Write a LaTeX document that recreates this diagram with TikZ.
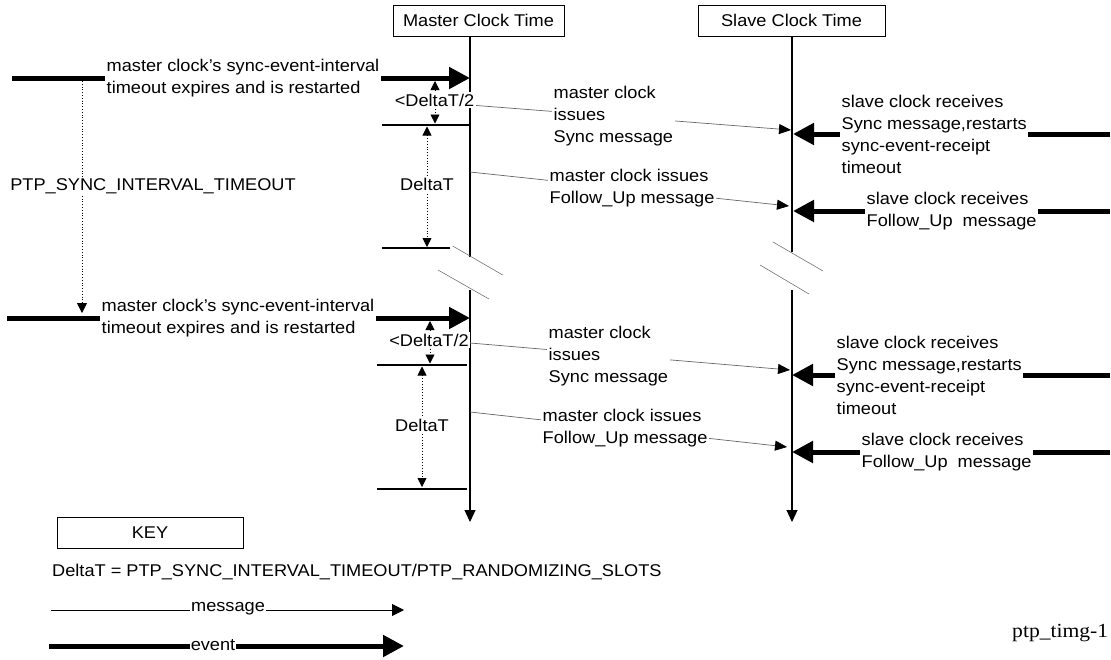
\documentclass[tikz,border=0pt]{standalone}
\usepackage{fontspec}
\setmainfont{Liberation Sans}[FakeStretch=1.07]
\newfontfamily\tagfont{Liberation Serif}[FakeStretch=1.08]
\usetikzlibrary{arrows.meta}

\begin{document}
\begin{tikzpicture}[x=1pt,y=-1pt,
  every node/.style={font=\fontsize{17}{22}\selectfont},
  txt/.style={fill=white, inner sep=1.5pt, align=left, anchor=west},
  ctxt/.style={fill=white, inner sep=1.5pt},
  timebox/.style={draw, line width=0.9pt, minimum height=31pt, inner sep=0pt},
  timeline/.style={line width=2pt},
  timelinelow/.style={line width=1.2pt, -{Triangle[length=12pt,width=11pt]}},
  event/.style={line width=5pt, -{Triangle[length=21pt,width=21pt]}},
  message/.style={line width=0.7pt, draw=black!60, -{Triangle[length=12pt,width=10pt,color=black]}},
  keymessage/.style={line width=0.8pt, -{Triangle[length=12pt,width=12pt]}},
  breakmark/.style={line width=0.6pt, draw=black!55},
  span/.style={dotted, line width=0.8pt, {Triangle[length=9pt,width=9pt]}-{Triangle[length=9pt,width=9pt]}},
  bar/.style={line width=2pt},
]
\useasboundingbox (0,0) rectangle (1111,659);

% ---------- clock headers ----------
\node[timebox, minimum width=171pt] (mbox) at (478.5,20.5) {Master Clock Time};
\node[timebox, minimum width=187pt] (sbox) at (791.5,20.5) {Slave Clock Time};

% ---------- time lines ----------
\coordinate (m0) at (470,36);  \coordinate (m1) at (470,257);
\coordinate (m2) at (470,290); \coordinate (m3) at (470,522);
\coordinate (s0) at (792,36);  \coordinate (s1) at (792,252);
\coordinate (s2) at (792,290); \coordinate (s3) at (792,522);
\draw[timeline] (m0) -- (m1);
\draw[timeline] (s0) -- (s1);
\draw[timelinelow] (m2) -- (m3);
\draw[timelinelow] (s2) -- (s3);

% break marks
\coordinate (mb1a) at (452.7,246); \coordinate (mb1b) at (502.7,275);
\coordinate (mb2a) at (438,270);   \coordinate (mb2b) at (489,299);
\coordinate (sb1a) at (773,242);   \coordinate (sb1b) at (823,271);
\coordinate (sb2a) at (760,265);   \coordinate (sb2b) at (809,294);
\draw[breakmark] (mb1a) -- (mb1b);
\draw[breakmark] (mb2a) -- (mb2b);
\draw[breakmark] (sb1a) -- (sb1b);
\draw[breakmark] (sb2a) -- (sb2b);

% ---------- first interval ----------
\coordinate (ea1) at (12,78);  \coordinate (eb1) at (470,78);
\draw[event] (ea1) -- (eb1);
\node[txt] (tm1) at (105,78.5) {master clock’s sync-event-interval\\timeout expires and is restarted};

% interval timeout
\coordinate (pa) at (82,81); \coordinate (pb) at (82,313);
\draw[dotted, line width=0.8pt, -{Triangle[length=10pt,width=10pt]}] (pa) -- (pb);
\node[ctxt] (ptp) at (153,186) {PTP\_SYNC\_INTERVAL\_TIMEOUT};

% messages
\coordinate (ms1a) at (470,105); \coordinate (ms1b) at (791,130);
\coordinate (mf1a) at (470,172); \coordinate (mf1b) at (789,206);
\draw[message] (ms1a) -- (ms1b);
\draw[message] (mf1a) -- (mf1b);
\node[txt] (ts1) at (552,116) {master clock\\issues\\Sync message};
\node[txt] (tf1) at (548,188) {master clock issues\\Follow\_Up message};

% slots
\coordinate (ba1) at (382,125); \coordinate (bb1) at (470,125);
\coordinate (bc1) at (382,248); \coordinate (bd1) at (450,248);
\draw[bar] (ba1) -- (bb1);
\draw[bar] (bc1) -- (bd1);
\coordinate (ha1) at (435,81);    \coordinate (hb1) at (435,123.5);
\coordinate (da1) at (427,126.5); \coordinate (db1) at (427,247);
\draw[span] (ha1) -- (hb1);
\draw[span] (da1) -- (db1);
\node[ctxt] (half1) at (434.5,100) {<DeltaT/2};
\node[ctxt] (dt1) at (427,184) {DeltaT};

% slave events
\coordinate (rs1a) at (1110,134); \coordinate (rs1b) at (793,134);
\coordinate (rf1a) at (1110,211); \coordinate (rf1b) at (793,211);
\draw[event] (rs1a) -- (rs1b);
\draw[event] (rf1a) -- (rf1b);
\node[txt] (rs1) at (840,134) {slave clock receives\\Sync message,restarts\\sync-event-receipt\\timeout};
\node[txt] (rf1) at (865,211) {slave clock receives\\Follow\_Up\ \ message};

% ---------- second interval ----------
\coordinate (ea2) at (7,318);  \coordinate (eb2) at (470,318);
\draw[event] (ea2) -- (eb2);
\node[txt] (tm2) at (100,318.5) {master clock’s sync-event-interval\\timeout expires and is restarted};

\coordinate (ms2a) at (470,343); \coordinate (ms2b) at (790,370);
\coordinate (mf2a) at (470,412); \coordinate (mf2b) at (787,447);
\draw[message] (ms2a) -- (ms2b);
\draw[message] (mf2a) -- (mf2b);
\node[txt] (ts2) at (547,356) {master clock\\issues\\Sync message};
\node[txt] (tf2) at (541,428) {master clock issues\\Follow\_Up message};

\coordinate (ba2) at (377,365); \coordinate (bb2) at (467,365);
\coordinate (bc2) at (377,489); \coordinate (bd2) at (467,489);
\draw[bar] (ba2) -- (bb2);
\draw[bar] (bc2) -- (bd2);
\coordinate (ha2) at (430,321);   \coordinate (hb2) at (430,363.5);
\coordinate (da2) at (422,366.5); \coordinate (db2) at (422,487);
\draw[span] (ha2) -- (hb2);
\draw[span] (da2) -- (db2);
\node[ctxt] (half2) at (429,340) {<DeltaT/2};
\node[ctxt] (dt2) at (422,425) {DeltaT};

\coordinate (rs2a) at (1110,375); \coordinate (rs2b) at (792,375);
\coordinate (rf2a) at (1110,452); \coordinate (rf2b) at (792,452);
\draw[event] (rs2a) -- (rs2b);
\draw[event] (rf2a) -- (rf2b);
\node[txt] (rs2) at (835,375) {slave clock receives\\Sync message,restarts\\sync-event-receipt\\timeout};
\node[txt] (rf2) at (860,452) {slave clock receives\\Follow\_Up\ \ message};

% ---------- key ----------
\node[timebox, minimum width=186pt] (key) at (150,532.5) {KEY};
\node[anchor=west, inner sep=0pt] (def) at (52,572) {DeltaT = PTP\_SYNC\_INTERVAL\_TIMEOUT/PTP\_RANDOMIZING\_SLOTS};
\coordinate (kma) at (51,610);  \coordinate (kmb) at (404,610);
\coordinate (kea) at (49,646);  \coordinate (keb) at (404,646);
\draw[keymessage] (kma) -- (kmb);
\draw[event] (kea) -- (keb);
\node[fill=white, inner sep=1pt] (kmsg) at (228,609) {message};
\node[fill=white, inner sep=1pt] (kevt) at (213,645) {event};

\node[anchor=west, inner sep=0pt, font=\tagfont\fontsize{20}{22}\selectfont] (tag) at (1012,633) {ptp\_timg-1};
\end{tikzpicture}
\end{document}
